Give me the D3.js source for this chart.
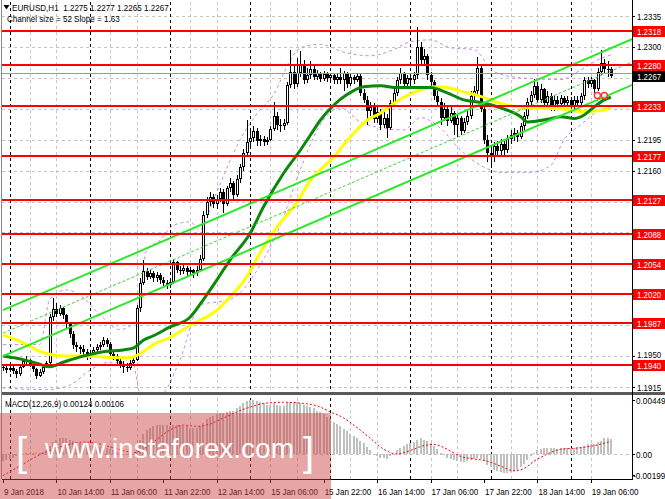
<!DOCTYPE html>
<html><head><meta charset="utf-8">
<script src="https://cdn.jsdelivr.net/npm/d3@7/dist/d3.min.js"></script>
<style>
html,body{margin:0;padding:0;background:#fff;}
svg{display:block;}
text{font-family:"Liberation Sans",Arial,sans-serif;white-space:pre;}
</style></head><body>
<svg id="chart" width="665" height="499"></svg>
<script>
// ---------------- DATA ----------------
const firstOpen = 1.1938;
const closes = [
1.1936,1.1934,1.1937,1.1933,1.1930,1.1938,1.1944,1.1946,1.1941,1.1935,
1.1928,1.1932,1.1938,1.1942,1.1994,1.2003,1.1998,1.2004,1.1996,1.1986,
1.1975,1.1962,1.1960,1.1958,1.1955,1.1950,1.1953,1.1957,1.1960,1.1962,
1.1968,1.1964,1.1952,1.1950,1.1944,1.1941,1.1938,1.1936,1.1942,1.1946,
1.2004,1.2033,1.2046,1.2040,1.2044,1.2038,1.2042,1.2036,1.2033,1.2030,
1.2034,1.2056,1.2048,1.2046,1.2050,1.2045,1.2047,1.2044,1.2048,1.2060,
1.2110,1.2125,1.2130,1.2122,1.2128,1.2136,1.2122,1.2140,1.2146,1.2132,
1.2150,1.2164,1.2180,1.2192,1.2197,1.2205,1.2193,1.2196,1.2192,1.2195,
1.2207,1.2222,1.2212,1.2210,1.2214,1.2257,1.2272,1.2258,1.2270,1.2280,
1.2262,1.2268,1.2275,1.2266,1.2270,1.2264,1.2269,1.2265,1.2268,1.2262,
1.2266,1.2263,1.2270,1.2258,1.2266,1.2262,1.2267,1.2248,1.2240,1.2228,
1.2232,1.2218,1.2226,1.2212,1.2220,1.2208,1.2236,1.2248,1.2262,1.2270,
1.2258,1.2265,1.2262,1.2268,1.2300,1.2285,1.2290,1.2268,1.2260,1.2245,
1.2238,1.2220,1.2230,1.2216,1.2225,1.2212,1.2220,1.2205,1.2215,1.2222,
1.2245,1.2250,1.2276,1.2230,1.2195,1.2180,1.2175,1.2188,1.2182,1.2190,
1.2183,1.2196,1.2200,1.2203,1.2198,1.2210,1.2222,1.2238,1.2246,1.2256,
1.2240,1.2252,1.2236,1.2245,1.2232,1.2240,1.2235,1.2242,1.2236,1.2240,
1.2233,1.2240,1.2236,1.2244,1.2262,1.2258,1.2262,1.2252,1.2272,1.2282,
1.2275,1.2275,1.2267];
const highs = [
1.1941,1.1939,1.1940,1.1939,1.1935,1.1940,1.1947,1.1950,1.1947,1.1942,
1.1936,1.1935,1.1940,1.1945,1.1998,1.2016,1.2010,1.2008,1.2006,1.1998,
1.1988,1.1978,1.1966,1.1963,1.1962,1.1958,1.1957,1.1960,1.1964,1.1966,
1.1972,1.1970,1.1966,1.1956,1.1952,1.1948,1.1945,1.1942,1.1946,1.1950,
1.2008,1.2038,1.2059,1.2050,1.2049,1.2046,1.2045,1.2044,1.2039,1.2036,
1.2038,1.2060,1.2058,1.2052,1.2054,1.2052,1.2051,1.2049,1.2052,1.2064,
1.2114,1.2130,1.2136,1.2134,1.2132,1.2140,1.2139,1.2143,1.2152,1.2148,
1.2155,1.2168,1.2185,1.2217,1.2206,1.2210,1.2208,1.2200,1.2199,1.2198,
1.2210,1.2238,1.2226,1.2218,1.2218,1.2260,1.2297,1.2280,1.2288,1.2295,
1.2285,1.2276,1.2284,1.2278,1.2274,1.2272,1.2273,1.2272,1.2271,1.2270,
1.2270,1.2276,1.2273,1.2272,1.2270,1.2268,1.2271,1.2270,1.2252,1.2244,
1.2238,1.2236,1.2232,1.2230,1.2226,1.2224,1.2240,1.2252,1.2266,1.2276,
1.2272,1.2268,1.2268,1.2272,1.2323,1.2306,1.2298,1.2292,1.2272,1.2262,
1.2250,1.2242,1.2236,1.2234,1.2232,1.2228,1.2224,1.2222,1.2220,1.2228,
1.2250,1.2256,1.2289,1.2278,1.2234,1.2200,1.2186,1.2192,1.2194,1.2196,
1.2194,1.2200,1.2206,1.2208,1.2206,1.2214,1.2226,1.2242,1.2250,1.2264,
1.2260,1.2258,1.2254,1.2250,1.2248,1.2246,1.2244,1.2246,1.2245,1.2244,
1.2243,1.2244,1.2244,1.2248,1.2266,1.2266,1.2266,1.2264,1.2276,1.2296,
1.2286,1.2284,1.2277];
const lows = [
1.1933,1.1931,1.1932,1.1930,1.1925,1.1928,1.1936,1.1941,1.1938,1.1932,
1.1924,1.1926,1.1930,1.1936,1.1940,1.1990,1.1994,1.1995,1.1992,1.1982,
1.1970,1.1958,1.1955,1.1952,1.1950,1.1946,1.1948,1.1950,1.1954,1.1957,
1.1960,1.1960,1.1948,1.1946,1.1940,1.1936,1.1931,1.1932,1.1934,1.1940,
1.1944,1.2000,1.2030,1.2036,1.2037,1.2034,1.2034,1.2032,1.2028,1.2026,
1.2027,1.2032,1.2044,1.2042,1.2043,1.2041,1.2042,1.2038,1.2041,1.2046,
1.2058,1.2106,1.2120,1.2118,1.2117,1.2124,1.2112,1.2120,1.2136,1.2128,
1.2130,1.2146,1.2160,1.2176,1.2188,1.2192,1.2188,1.2188,1.2188,1.2189,
1.2193,1.2205,1.2206,1.2204,1.2206,1.2212,1.2254,1.2252,1.2255,1.2266,
1.2258,1.2259,1.2264,1.2262,1.2262,1.2260,1.2261,1.2260,1.2262,1.2258,
1.2258,1.2258,1.2250,1.2254,1.2256,1.2258,1.2260,1.2244,1.2236,1.2212,
1.2222,1.2214,1.2214,1.2206,1.2208,1.2197,1.2206,1.2232,1.2244,1.2258,
1.2254,1.2252,1.2256,1.2258,1.2264,1.2280,1.2278,1.2262,1.2256,1.2240,
1.2232,1.2212,1.2216,1.2210,1.2214,1.2200,1.2198,1.2200,1.2202,1.2212,
1.2218,1.2240,1.2246,1.2226,1.2190,1.2170,1.2163,1.2170,1.2176,1.2178,
1.2176,1.2180,1.2190,1.2194,1.2192,1.2196,1.2206,1.2218,1.2234,1.2242,
1.2236,1.2236,1.2230,1.2232,1.2228,1.2228,1.2230,1.2232,1.2232,1.2232,
1.2228,1.2230,1.2232,1.2233,1.2240,1.2254,1.2255,1.2248,1.2250,1.2268,
1.2270,1.2266,1.2265];

const maFastBars   = [0,6,10,14,18,24,30,36,39,42,45,50,56,60,64,68,74,78,84,89,92,95,99,103,108,113,118,123,128,133,138,143,149,155,157,163,167,171,174,177,180,182];
const maFastValues = [1.1950,1.1946,1.1942,1.1938,1.1943,1.1950,1.1955,1.1957,1.1959,1.1968,1.1973,1.1983,1.1994,1.2014,1.2036,1.2059,1.2089,1.2119,1.2157,1.2183,1.2200,1.2217,1.2234,1.2246,1.2255,1.2256,1.2254,1.2254,1.2254,1.2248,1.2240,1.2237,1.2231,1.2221,1.2215,1.2218,1.2221,1.2219,1.2223,1.2232,1.2240,1.2243];
const maSlowBars   = [0,6,10,13,18,24,30,36,39,42,45,50,57,63,68,73,77,82,88,92,99,104,109,113,117,121,125,129,133,137,143,149,157,167,173,179,182];
const maSlowValues = [1.1974,1.1965,1.1957,1.1953,1.1950,1.1950,1.1949,1.1948,1.1949,1.1955,1.1963,1.1971,1.1987,1.1999,1.2017,1.2040,1.2067,1.2096,1.2124,1.2149,1.2175,1.2198,1.2217,1.2225,1.2236,1.2245,1.2251,1.2255,1.2254,1.2250,1.2244,1.2236,1.2231,1.2230,1.2227,1.2228,1.2231];

const bandUpperBars = [0,11,14,19,23,29,35,40,43,47,51,56,59,63,71,77,81,86,89,95,102,110,117,122,128,134,141,147,155,167,173,179,182];
const bandUpper     = [1.1963,1.1963,1.2014,1.2025,1.2019,1.1997,1.1980,1.1991,1.2070,1.2081,1.2098,1.2102,1.2093,1.2127,1.2195,1.2229,1.2246,1.2285,1.2299,1.2303,1.2294,1.2290,1.2297,1.2306,1.2308,1.2299,1.2297,1.2272,1.2265,1.2263,1.2274,1.2287,1.2291];
const bandLowerBars = [0,13,20,26,32,39,41,47,53,59,68,77,83,89,95,101,107,114,120,125,131,137,143,149,158,164,168,173,179,182];
const bandLower     = [1.1914,1.1912,1.1917,1.1934,1.1943,1.1940,1.1909,1.1906,1.1946,1.2008,1.2014,1.2053,1.2098,1.2161,1.2212,1.2231,1.2215,1.2208,1.2206,1.2220,1.2208,1.2183,1.2166,1.2158,1.2158,1.2166,1.2195,1.2212,1.2229,1.2232];

const channelBars  = [0, 189];
const channelUpper = [1.2002, 1.2310];
const channelMid   = [1.1976, 1.2284];
const channelLower = [1.1950, 1.2258];

const levels = [1.2318,1.2280,1.2233,1.2177,1.2127,1.2088,1.2054,1.2020,1.1987,1.1940];
const askPrice = 1.2270;
const lastPrice = 1.2267;
const priceTicks = [1.2335,1.2300,1.2265,1.2230,1.2195,1.2160,1.2125,1.2090,1.2055,1.2020,1.1985,1.1950,1.1915];

const timeLabels = ["9 Jan 2018","10 Jan 14:00","11 Jan 06:00","11 Jan 22:00","12 Jan 14:00","15 Jan 06:00","15 Jan 22:00","16 Jan 14:00","17 Jan 06:00","17 Jan 22:00","18 Jan 14:00","19 Jan 06:00"];
const timeLabelBars = [0,16,32,48,64,80,96,112,128,144,160,176];
const daySeparatorBars = [2,26,50,74,98,122,146,170];

const macdHist = [
-0.0006,-0.0005,-0.0004,-0.0003,-0.0002,-0.0001,0.0000,0.0001,0.0001,0.0001,
0.0001,0.0001,0.0002,0.0003,0.0007,0.0010,0.0012,0.0013,0.0013,0.0013,
0.0012,0.0011,0.0010,0.0009,0.0009,0.0008,0.0007,0.0007,0.0006,0.0006,
0.0006,0.0005,0.0004,0.0003,0.0002,0.0001,0.0000,-0.0001,-0.0001,0.0000,
0.0006,0.0012,0.0017,0.0020,0.0022,0.0023,0.0024,0.0024,0.0024,0.0024,
0.0023,0.0024,0.0024,0.0024,0.0023,0.0023,0.0022,0.0022,0.0022,0.0023,
0.0026,0.0029,0.0031,0.0032,0.0033,0.0034,0.0034,0.0035,0.0036,0.0036,
0.0038,0.0040,0.0042,0.0044,0.0045,0.0045,0.0044,0.0043,0.0042,0.0041,
0.0041,0.0042,0.0041,0.0040,0.0040,0.0042,0.0043,0.0043,0.0043,0.0042,
0.0041,0.0040,0.0039,0.0038,0.0036,0.0035,0.0033,0.0031,0.0029,0.0027,
0.0025,0.0023,0.0021,0.0019,0.0017,0.0015,0.0013,0.0011,0.0009,0.0006,
0.0003,0.0000,-0.0002,-0.0003,-0.0003,-0.0004,-0.0002,0.0000,0.0003,0.0005,
0.0007,0.0008,0.0009,0.0010,0.0012,0.0013,0.0012,0.0011,0.0009,0.0007,
0.0004,0.0001,-0.0001,-0.0003,-0.0004,-0.0005,-0.0006,-0.0007,-0.0007,-0.0006,
-0.0005,-0.0004,-0.0003,-0.0004,-0.0006,-0.0009,-0.0011,-0.0013,-0.0014,-0.0015,
-0.0016,-0.0016,-0.0015,-0.0014,-0.0013,-0.0011,-0.0008,-0.0005,-0.0002,0.0001,
0.0003,0.0004,0.0005,0.0005,0.0005,0.0005,0.0004,0.0005,0.0005,0.0005,
0.0005,0.0005,0.0006,0.0006,0.0007,0.0008,0.0008,0.0008,0.0010,0.0011,
0.0013,0.0013,0.00124];
const signalBars   = [0,5,10,15,20,24,28,32,36,39,42,46,50,54,58,62,66,70,74,78,84,90,94,98,102,106,110,114,118,122,126,129,133,137,141,145,149,153,156,159,163,167,172,177,182];
const signalValues = [-0.0018,-0.0010,-0.0002,0.0004,0.0008,0.0010,0.0009,0.0006,0.0003,0.0001,0.0004,0.0012,0.0020,0.0024,0.0023,0.0025,0.0030,0.0035,0.0039,0.0042,0.0043,0.0042,0.0040,0.0035,0.0030,0.0022,0.0013,0.0004,0.0000,0.0003,0.0007,0.0008,0.0004,-0.0002,-0.0004,-0.0006,-0.0010,-0.0014,-0.0012,-0.0006,0.0000,0.0004,0.0005,0.0007,0.00106];
const macdTicks = [0.00449, 0.0, -0.00199];
const macdTickLabels = ["0.00449","0.00","-0.00199"];

const headerLine1 = "EURUSD,H1  1.2275 1.2277 1.2265 1.2267";
const headerLine2 = "Channel size = 52 Slope = 1.63";
const macdTitle = "MACD(12,26,9) 0.00124 0.00106";

// ---------------- DRAW ----------------
const svg = d3.select('#chart');
const PL = 2, PR = 632, MT = 2, MB = 392, QT = 395, QB = 479;
const x = d3.scaleLinear().domain([0, 182]).range([3, 3 + 182 * 3.34]);
const y = d3.scaleLinear().domain([1.1915, 1.2335]).range([387, 16]);
const ym = d3.scaleLinear().domain([-0.00199, 0.00449]).range([478, 400]);
const f4 = d3.format(".4f");

function condense(sel, k) {
  sel.each(function () {
    const l = this.getComputedTextLength() * (k || 0.85);
    this.setAttribute('textLength', l.toFixed(2));
    this.setAttribute('lengthAdjust', 'spacingAndGlyphs');
  });
}

svg.append('rect').attr('width', 665).attr('height', 499).attr('fill', '#fff');
const defs = svg.append('defs');
defs.append('clipPath').attr('id', 'cMain').append('rect').attr('x', PL).attr('y', MT).attr('width', PR - PL).attr('height', MB - MT);
defs.append('clipPath').attr('id', 'cMacd').append('rect').attr('x', PL).attr('y', QT).attr('width', PR - PL).attr('height', QB - QT);

// grids
const grid = svg.append('g').attr('shape-rendering', 'crispEdges');
grid.selectAll('line.h').data(priceTicks).join('line')
  .attr('x1', PL).attr('x2', PR)
  .attr('y1', d => Math.round(y(d)) + 0.5).attr('y2', d => Math.round(y(d)) + 0.5)
  .attr('stroke', '#c4c4c4').attr('stroke-dasharray', '3,3');
const gridBars = d3.range(8, 183, 8).filter(b => b % 24 !== 0);
grid.selectAll('line.v').data(gridBars).join('line')
  .attr('x1', d => Math.round(x(d)) + 0.5).attr('x2', d => Math.round(x(d)) + 0.5)
  .attr('y1', MT).attr('y2', QB)
  .attr('stroke', '#c4c4c4').attr('stroke-dasharray', '3,3');
grid.selectAll('line.d').data(daySeparatorBars).join('line')
  .attr('x1', d => Math.round(x(d)) + 0.5).attr('x2', d => Math.round(x(d)) + 0.5)
  .attr('y1', MT).attr('y2', QB)
  .attr('stroke', '#000').attr('stroke-dasharray', '3,3');

const gm = svg.append('g').attr('clip-path', 'url(#cMain)');

// purple bands
const curve = d3.line().x(d => x(d[0])).y(d => y(d[1])).curve(d3.curveMonotoneX);
[[bandUpperBars, bandUpper], [bandLowerBars, bandLower]].forEach(([b, v]) => {
  gm.append('path').attr('d', curve(d3.zip(b, v))).attr('fill', 'none')
    .attr('stroke', '#c58ae8').attr('stroke-width', 1).attr('stroke-dasharray', '3,3');
});

// candles
const candles = closes.map((c, i) => ({ i, o: i === 0 ? firstOpen : closes[i - 1], h: highs[i], l: lows[i], c }));
const cg = gm.append('g').attr('shape-rendering', 'crispEdges');
cg.selectAll('line').data(candles).join('line')
  .attr('x1', d => Math.round(x(d.i)) + 0.5).attr('x2', d => Math.round(x(d.i)) + 0.5)
  .attr('y1', d => y(Math.max(d.h, d.o, d.c))).attr('y2', d => y(Math.min(d.l, d.o, d.c)))
  .attr('stroke', '#000');
function bodyTop(d) { return Math.round(y(Math.max(d.o, d.c))); }
function bodyH(d) { return Math.max(1, Math.round(y(Math.min(d.o, d.c))) - bodyTop(d)); }
cg.selectAll('rect.b').data(candles).join('rect')
  .attr('x', d => Math.round(x(d.i)) - 1).attr('y', bodyTop).attr('width', 3).attr('height', bodyH)
  .attr('fill', '#000');
cg.selectAll('rect.w').data(candles.filter(d => d.c > d.o && bodyH(d) > 2)).join('rect')
  .attr('x', d => Math.round(x(d.i))).attr('y', d => bodyTop(d) + 1).attr('width', 1).attr('height', d => bodyH(d) - 2)
  .attr('fill', '#fff');

// moving averages
gm.append('path').attr('d', curve(d3.zip(maSlowBars, maSlowValues))).attr('fill', 'none')
  .attr('stroke', '#ffff00').attr('stroke-width', 3).attr('stroke-linejoin', 'round');
gm.append('path').attr('d', curve(d3.zip(maFastBars, maFastValues))).attr('fill', 'none')
  .attr('stroke', '#0b870b').attr('stroke-width', 3).attr('stroke-linejoin', 'round');

// channel
const straight = d3.line().x(d => x(d[0])).y(d => y(d[1]));
gm.append('path').attr('d', straight(d3.zip(channelBars, channelUpper))).attr('stroke', '#2ee82e').attr('stroke-width', 2).attr('fill', 'none');
gm.append('path').attr('d', straight(d3.zip(channelBars, channelLower))).attr('stroke', '#2ee82e').attr('stroke-width', 2).attr('fill', 'none');
gm.append('path').attr('d', straight(d3.zip(channelBars, channelMid))).attr('stroke', '#3ad83a').attr('stroke-width', 1).attr('stroke-dasharray', '3,2').attr('fill', 'none');

// levels
gm.selectAll('line.lv').data(levels).join('line')
  .attr('x1', PL).attr('x2', PR).attr('y1', d => Math.round(y(d))).attr('y2', d => Math.round(y(d)))
  .attr('stroke', '#ff0000').attr('stroke-width', 2).attr('shape-rendering', 'crispEdges');
gm.append('line').attr('x1', PL).attr('x2', PR).attr('y1', Math.round(y(askPrice)) + 0.5).attr('y2', Math.round(y(askPrice)) + 0.5)
  .attr('stroke', '#f47a50').attr('stroke-width', 1).attr('shape-rendering', 'crispEdges');

// small red marker
[-3.5, 3.5].forEach(dx => gm.append('circle').attr('cx', x(179) + dx).attr('cy', y(1.2245)).attr('r', 3)
  .attr('fill', '#fff').attr('fill-opacity', 0.6).attr('stroke', '#ff3030').attr('stroke-width', 1.3));

// MACD panel
const gq = svg.append('g').attr('clip-path', 'url(#cMacd)');
gq.append('line').attr('x1', PL).attr('x2', PR).attr('y1', Math.round(ym(0)) + 0.5).attr('y2', Math.round(ym(0)) + 0.5)
  .attr('stroke', '#c4c4c4').attr('stroke-dasharray', '3,3');
gq.append('g').attr('shape-rendering', 'crispEdges').selectAll('rect').data(macdHist).join('rect')
  .attr('x', (d, i) => Math.round(x(i)) - 1).attr('width', 2)
  .attr('y', d => Math.min(ym(d), ym(0))).attr('height', d => Math.max(0.5, Math.abs(ym(d) - ym(0))))
  .attr('fill', '#c0c0c0');
gq.append('path').attr('d', d3.line().x(d => x(d[0])).y(d => ym(d[1])).curve(d3.curveMonotoneX)(d3.zip(signalBars, signalValues)))
  .attr('fill', 'none').attr('stroke', '#ff0000').attr('stroke-width', 1).attr('stroke-dasharray', '2,2');

// frame
const fr = svg.append('g').attr('shape-rendering', 'crispEdges');
fr.append('rect').attr('x', PR).attr('y', 0).attr('width', 665 - PR).attr('height', 499).attr('fill', '#fff');
fr.append('rect').attr('x', PL).attr('y', MB).attr('width', 665 - PL).attr('height', QT - MB).attr('fill', '#5a5a5a');
fr.append('line').attr('x1', PR + 0.5).attr('x2', PR + 0.5).attr('y1', 0).attr('y2', QB).attr('stroke', '#000');
fr.append('line').attr('x1', 1.5).attr('x2', 1.5).attr('y1', 0).attr('y2', QB).attr('stroke', '#8a8a8a');
fr.append('line').attr('x1', PL).attr('x2', PR + 1).attr('y1', QB + 0.5).attr('y2', QB + 0.5).attr('stroke', '#000');

// price axis (labels hidden behind a level box are not drawn, as in the reference)
const boxPrices = levels.concat([lastPrice]);
const visibleTicks = priceTicks.filter(t => boxPrices.every(b => Math.abs(y(t) - y(b)) > 8));
const ax = svg.append('g');
ax.selectAll('line').data(priceTicks).join('line')
  .attr('x1', PR).attr('x2', PR + 3).attr('y1', d => Math.round(y(d)) + 0.5).attr('y2', d => Math.round(y(d)) + 0.5)
  .attr('stroke', '#000').attr('shape-rendering', 'crispEdges');
ax.selectAll('text').data(visibleTicks).join('text')
  .attr('x', PR + 5)
  .attr('y', d => {
    const near = boxPrices.map(b => y(b) - y(d)).filter(g => g > 0 && g < 11);
    return y(d) + 3.5 - (near.length ? 1.5 : 0);
  })
  .attr('font-size', 8.6).attr('fill', '#000').text(d => f4(d))
  .call(condense, 0.92);

// level labels
const lb = svg.append('g');
lb.selectAll('rect').data(levels).join('rect')
  .attr('x', PR + 1).attr('y', d => Math.round(y(d)) - 5).attr('width', 665 - PR - 1).attr('height', 11)
  .attr('fill', '#ff0000').attr('shape-rendering', 'crispEdges');
lb.selectAll('text').data(levels).join('text')
  .attr('x', PR + 5).attr('y', d => Math.round(y(d)) + 3.5).attr('font-size', 8.6).attr('fill', '#fff').text(d => f4(d))
  .call(condense, 0.92);
lb.append('rect').attr('x', PR + 1).attr('y', Math.round(y(lastPrice)) - 5).attr('width', 665 - PR - 1).attr('height', 11).attr('fill', '#000');
lb.append('text').attr('x', PR + 5).attr('y', Math.round(y(lastPrice)) + 3.5).attr('font-size', 8.6).attr('fill', '#fff').text(f4(lastPrice)).call(condense, 0.92);

// MACD axis labels
const mq = svg.append('g');
mq.selectAll('text').data(macdTicks).join('text')
  .attr('x', d => d < 0 ? PR + 1 : PR + 4)
  .attr('y', d => Math.min(ym(d), 475) + 3.5)
  .attr('font-size', 8.2).attr('fill', '#000').text((d, i) => macdTickLabels[i]);
mq.selectAll('line').data(macdTicks).join('line')
  .attr('x1', PR).attr('x2', PR + 3).attr('y1', d => Math.round(Math.min(ym(d), 475)) + 0.5).attr('y2', d => Math.round(Math.min(ym(d), 475)) + 0.5)
  .attr('stroke', '#000').attr('shape-rendering', 'crispEdges');

// time axis
const ta = svg.append('g');
ta.selectAll('line').data(timeLabelBars).join('line')
  .attr('x1', d => Math.round(x(d)) + 0.5).attr('x2', d => Math.round(x(d)) + 0.5).attr('y1', QB).attr('y2', QB + 4)
  .attr('stroke', '#000').attr('shape-rendering', 'crispEdges');
ta.selectAll('text').data(timeLabelBars).join('text')
  .attr('x', d => x(d) + 1).attr('y', 494.5).attr('font-size', 9.5).attr('fill', '#000')
  .text((d, i) => timeLabels[i]).call(condense);

// header texts
svg.append('path').attr('d', 'M3.5,5 L9.5,5 L6.5,9.5 Z').attr('fill', '#000');
svg.append('text').attr('x', 12).attr('y', 11).attr('font-size', 9.5).attr('fill', '#000').text(headerLine1).call(condense);
svg.append('text').attr('x', 7).attr('y', 22).attr('font-size', 9.5).attr('fill', '#000').text(headerLine2).call(condense);
svg.append('text').attr('x', 5).attr('y', 406.5).attr('font-size', 9.5).attr('fill', '#000').text(macdTitle).call(condense);

// watermark
const wm = svg.append('g');
wm.append('rect').attr('x', 0).attr('y', 413).attr('width', 331).attr('height', 86).attr('fill', 'rgb(205,70,70)').attr('fill-opacity', 0.48);
wm.append('text').attr('x', 16).attr('y', 466).attr('font-size', 40).attr('font-weight', 100).attr('fill', '#fff').text('[');
wm.append('text').attr('x', 303).attr('y', 466).attr('font-size', 40).attr('fill', '#fff').text(']');
wm.append('text').attr('x', 45).attr('y', 458).attr('font-size', 28).attr('fill', '#fff').text('www.instaforex.com');
</script>
</body></html>
